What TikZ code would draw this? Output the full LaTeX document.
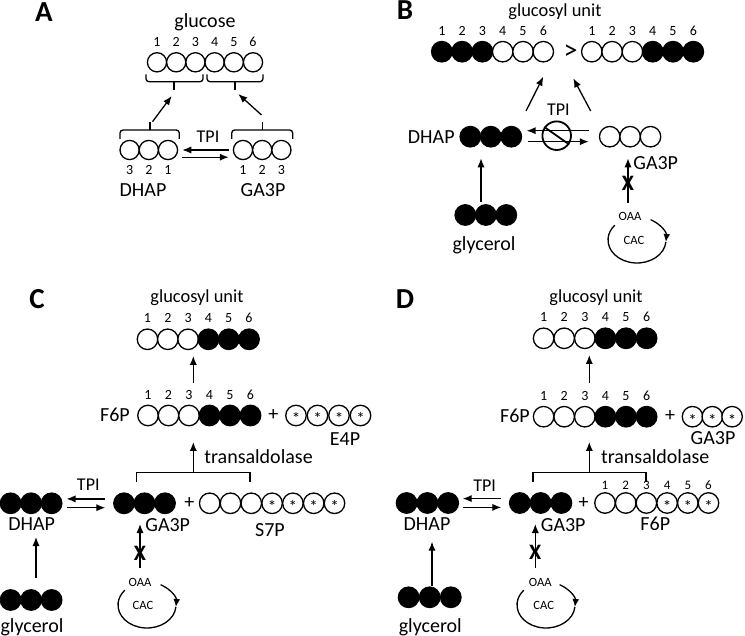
\documentclass[tikz,border=0pt]{standalone}
\usepackage{fontspec}
\setmainfont{Carlito}
\usetikzlibrary{arrows.meta,positioning}

% row of carbon atoms: [spacing]{name}{x of first}{y}{kinds}
\newcommand{\carbons}[5][20.5]{%
  \foreach \kind [count=\k] in {#5}{
    \node[\kind] (#2\k) at ({#3+(\k-1)*#1},#4) {};
  }}
\newcommand{\numsup}[3][2pt]{%
  \foreach \n [count=\k] in {#3}{
    \node[num, above=#1 of #2\k] (#2n\k) {\n};
  }}
\newcommand{\numsdown}[2]{%
  \foreach \n [count=\k] in {#2}{
    \node[num, below=2pt of #1\k] (#1n\k) {\n};
  }}

\begin{document}
\begin{tikzpicture}[x=0.5pt, y=-0.5pt,
    atom/.style={circle, draw, line width=0.65pt, fill=white, minimum size=10.25pt, inner sep=0pt},
    full/.style={atom, fill=black},
    star/.style={atom, label={[font=\fontsize{8.5}{8}\selectfont, inner sep=0pt, yshift=-1.7pt]center:*}},
    lbl/.style={font=\fontsize{10}{11}\selectfont, inner sep=1pt},
    head/.style={font=\fontsize{9.2}{10}\selectfont, inner sep=1pt},
    enz/.style={font=\fontsize{9}{10}\selectfont, inner sep=1pt},
    num/.style={font=\fontsize{7}{8}\selectfont, inner sep=0.5pt},
    tiny/.style={font=\fontsize{6.3}{7}\selectfont, inner sep=0.5pt},
    panel/.style={font=\fontsize{14.5}{15}\selectfont\bfseries},
    block/.style={font=\fontsize{11}{11}\selectfont\bfseries, inner sep=0pt},
    flow/.style={-{Latex[length=4.5pt,width=3.6pt]}, line width=0.65pt},
    brace/.style={line width=0.65pt, rounded corners=1.5pt},
    cyc/.style={line width=0.65pt}]
\useasboundingbox (0,0) rectangle (745,636);

% Panel A
\node[panel] (pA) at (44,12) {A};
\node[lbl] (glc) at (205,22) {glucose};
\begin{scope}[atom/.append style={minimum size=9.6pt}]
  \carbons[19.2]{g}{157}{62.3}{atom,atom,atom,atom,atom,atom}
  \carbons[19.2]{ad}{129.6}{150}{atom,atom,atom}
  \carbons[19.2]{at}{243}{150}{atom,atom,atom}
\end{scope}
\numsup{g}{1,2,3,4,5,6}
\numsdown{ad}{3,2,1}
\numsdown{at}{1,2,3}
\node[lbl] (dhapA) at (143,190) {DHAP};
\node[lbl] (ga3pA) at (263,190) {GA3P};
\node[enz] (tpiA) at (208,137) {TPI};

% braces
\draw[brace] (146,74.3) -- (146,81.7) -- (203,81.7) -- (203,74.3);
\draw[brace] (174,81.7) -- (174,90);
\draw[brace] (207,74.3) -- (207,81.7) -- (263,81.7) -- (263,74.3);
\draw[brace] (235,81.7) -- (235,90);
\draw[brace] (120,139) -- (120,130) -- (179.3,130) -- (179.3,139);
\draw[brace] (150,130) -- (150,121.7);
\draw[brace] (231.7,139) -- (231.7,130) -- (292.7,130) -- (292.7,139);
\draw[brace] (262.7,130) -- (262.7,121.7);

\coordinate (aL0) at (152.5,121.7);
\coordinate (aL1) at (171.7,96);
\coordinate (aR0) at (261.5,115);
\coordinate (aR1) at (238.3,94);
\draw[flow] (aL0) -- (aL1);
\draw[flow] (aR0) -- (aR1);
\draw[flow] ([xshift=-2pt]at1.west) -- ([xshift=2pt]ad3.east);
\draw[flow] ([xshift=2pt,yshift=-3.6pt]ad3.east) -- ([xshift=-2pt,yshift=-3.6pt]at1.west);

% Panel B
\node[panel] (pB) at (405,10) {B};
\node[head] (gluB) at (555,12) {glucosyl unit};
\carbons[20.3]{u}{441.8}{51.7}{full,full,full,atom,atom,atom}
\carbons[20.3]{v}{591.8}{51.7}{atom,atom,atom,full,full,full}
\numsup{u}{1,2,3,4,5,6}
\numsup{v}{1,2,3,4,5,6}
\node[font=\fontsize{14}{14}\selectfont, inner sep=0pt] (gt) at (570.7,51.7) {>};

\coordinate (bL0) at (526,111);
\coordinate (bL1) at (543.3,76.7);
\coordinate (bR0) at (590.7,111);
\coordinate (bR1) at (573.3,78.3);
\draw[flow] (bL0) -- (bL1);
\draw[flow] (bR0) -- (bR1);

\node[enz] (tpiB) at (558.3,110) {TPI};
\node[lbl, anchor=east] (dhapB) at (457,137) {DHAP};
\carbons{bd}{470.3}{136.7}{full,full,full}
\carbons[20.4]{bt}{609.7}{136.7}{atom,atom,atom}
\draw[flow] ([xshift=-5pt,yshift=3pt]bt1.west) -- ([xshift=2.2pt,yshift=3pt]bd3.east);
\draw[flow] ([xshift=2.8pt,yshift=-2.5pt]bd3.east) -- ([xshift=-5pt,yshift=-2.5pt]bt1.west);
\node[circle, draw, line width=0.9pt, minimum size=14.3pt, inner sep=0pt] (stop) at (556.7,135.7) {};
\draw[line width=0.9pt] (stop.145) -- (stop.-35);

\node[lbl, anchor=west] (ga3pB) at (631,163) {GA3P};
\coordinate (bo0) at (628,203);
\coordinate (bo1) at (628,158.3);
\draw[flow] (bo0) -- (bo1);
\node[block] (xB) at (628,183) {X};
\node[tiny] (oaaB) at (630,216) {OAA};
\node[tiny] (cacB) at (634,240) {CAC};
\draw[cyc, -{Latex[length=4pt,width=3.4pt]}] (637,240) ++(-62:29 and 23)
  arc[start angle=-62, end angle=5, x radius=29, y radius=23];
\draw[cyc] (637,240) ++(5:29 and 23)
  arc[start angle=5, end angle=220, x radius=29, y radius=23];

\carbons{by}{465.3}{215}{full,full,full}
\node[lbl] (glyB) at (484,245) {glycerol};
\coordinate (bg0) at (481,202);
\coordinate (bg1) at (481,158.3);
\draw[flow] (bg0) -- (bg1);

% Panel C
\node[panel] (pC) at (37,299) {C};
\node[head] (gluC) at (197,298) {glucosyl unit};
\carbons[20.3]{cu}{147.5}{339.3}{atom,atom,atom,full,full,full}
\numsup{cu}{1,2,3,4,5,6}
\coordinate (cu0) at (193.3,383.3);
\coordinate (cu1) at (193.3,356);
\draw[flow] (cu0) -- (cu1);

\node[lbl] (f6pC) at (115,415) {F6P};
\carbons{cf}{148}{415.5}{atom,atom,atom,full,full,full}
\numsup{cf}{1,2,3,4,5,6}
\node[lbl] (plusC1) at (273.3,415) {+};
\carbons[21.5]{ce}{296}{415.5}{star,star,star,star}
\node[lbl] (e4pC) at (345,439) {E4P};

\draw[line width=0.65pt] (136.7,481.7) -- (136.7,472.7) -- (250,472.7) -- (250,481.7);
\coordinate (ct0) at (193.3,472.7);
\coordinate (ct1) at (193.3,442);
\draw[flow] (ct0) -- (ct1);
\node[lbl, anchor=west] (taC) at (202,457) {transaldolase};

\carbons{cd}{10.6}{503.3}{full,full,full}
\node[lbl] (dhapC) at (31.7,524) {DHAP};
\node[enz] (tpiC) at (88.3,485) {TPI};
\carbons{cg}{124}{503.3}{full,full,full}
\draw[flow] ([xshift=-3.9pt,yshift=2.2pt]cg1.west) -- ([xshift=2pt,yshift=2.2pt]cd3.east);
\draw[flow] ([xshift=2pt,yshift=-2.2pt]cd3.east) -- ([xshift=-3.9pt,yshift=-2.2pt]cg1.west);
\node[lbl] (plusC2) at (189.3,503) {+};
\carbons[20.8]{cs}{209.7}{503.3}{atom,atom,atom,star,star,star,star}
\node[lbl] (s7pC) at (270,530) {S7P};

\node[lbl, anchor=west] (ga3pC) at (143,525) {GA3P};
\coordinate (co0) at (140,568);
\coordinate (co1) at (140,524);
\draw[flow] (co0) -- (co1);
\node[block] (xC) at (140,553) {X};
\node[tiny] (oaaC) at (140,582) {OAA};
\node[tiny] (cacC) at (143,605) {CAC};
\draw[cyc, -{Latex[length=4pt,width=3.4pt]}] (147,605) ++(-62:29 and 23)
  arc[start angle=-62, end angle=5, x radius=29, y radius=23];
\draw[cyc] (147,605) ++(5:29 and 23)
  arc[start angle=5, end angle=220, x radius=29, y radius=23];

\carbons{cy}{10.6}{600}{full,full,full}
\node[lbl] (glyC) at (32,627) {glycerol};
\coordinate (cg0) at (36,578);
\coordinate (cg1) at (36,537);
\draw[flow] (cg0) -- (cg1);

% Panel D
\node[panel] (pD) at (405,299) {D};
\node[head] (gluD) at (596,298) {glucosyl unit};
\carbons[20.6]{du}{543.6}{338.3}{atom,atom,atom,full,full,full}
\numsup{du}{1,2,3,4,5,6}
\coordinate (du0) at (589.3,383.3);
\coordinate (du1) at (589.3,355);
\draw[flow] (du0) -- (du1);

\node[lbl] (f6pD) at (515,416) {F6P};
\carbons[20.6]{df}{543.6}{416.7}{atom,atom,atom,full,full,full}
\numsup{df}{1,2,3,4,5,6}
\node[lbl] (plusD1) at (670,416) {+};
\carbons[19.8]{de}{692.5}{416.7}{star,star,star}
\node[lbl] (ga3pD2) at (713,438) {GA3P};

\draw[line width=0.65pt] (533,481.7) -- (533,472.7) -- (646,472.7) -- (646,481.7);
\coordinate (dt0) at (589.3,472.7);
\coordinate (dt1) at (589.3,442);
\draw[flow] (dt0) -- (dt1);
\node[lbl, anchor=west] (taD) at (598.7,457) {transaldolase};

\carbons[20.8]{dd}{406.6}{503}{full,full,full}
\node[lbl] (dhapD) at (427,524) {DHAP};
\node[enz] (tpiD) at (484.7,486) {TPI};
\carbons[20.8]{dg}{519.8}{503}{full,full,full}
\draw[flow] ([xshift=-3.8pt,yshift=2.2pt]dg1.west) -- ([xshift=1.8pt,yshift=2.2pt]dd3.east);
\draw[flow] ([xshift=1.8pt,yshift=-2.2pt]dd3.east) -- ([xshift=-3.8pt,yshift=-2.2pt]dg1.west);
\node[lbl] (plusD2) at (583.7,503) {+};
\carbons[20.7]{ds}{605}{503}{atom,atom,atom,star,star,star}
\begin{scope}[num/.append style={font=\fontsize{6.5}{7}\selectfont}]
  \numsup[0.5pt]{ds}{1,2,3,4,5,6}
\end{scope}
\node[lbl] (f6pD2) at (655.3,524) {F6P};

\node[lbl, anchor=west] (ga3pD) at (538.5,525) {GA3P};
\coordinate (do0) at (535.3,568);
\coordinate (do1) at (535.3,524);
\draw[flow] (do0) -- (do1);
\node[block] (xD) at (535.3,552) {X};
\node[tiny] (oaaD) at (540.3,582) {OAA};
\node[tiny] (cacD) at (543.7,605) {CAC};
\draw[cyc, -{Latex[length=4pt,width=3.4pt]}] (546,605) ++(-62:29 and 23)
  arc[start angle=-62, end angle=5, x radius=29, y radius=23];
\draw[cyc] (546,605) ++(5:29 and 23)
  arc[start angle=5, end angle=220, x radius=29, y radius=23];

\carbons[21.1]{dy}{408.6}{597.3}{full,full,full}
\node[lbl] (glyD) at (430.3,627) {glycerol};
\coordinate (dg0) at (432,586);
\coordinate (dg1) at (432,541.7);
\draw[flow] (dg0) -- (dg1);
\end{tikzpicture}
\end{document}
